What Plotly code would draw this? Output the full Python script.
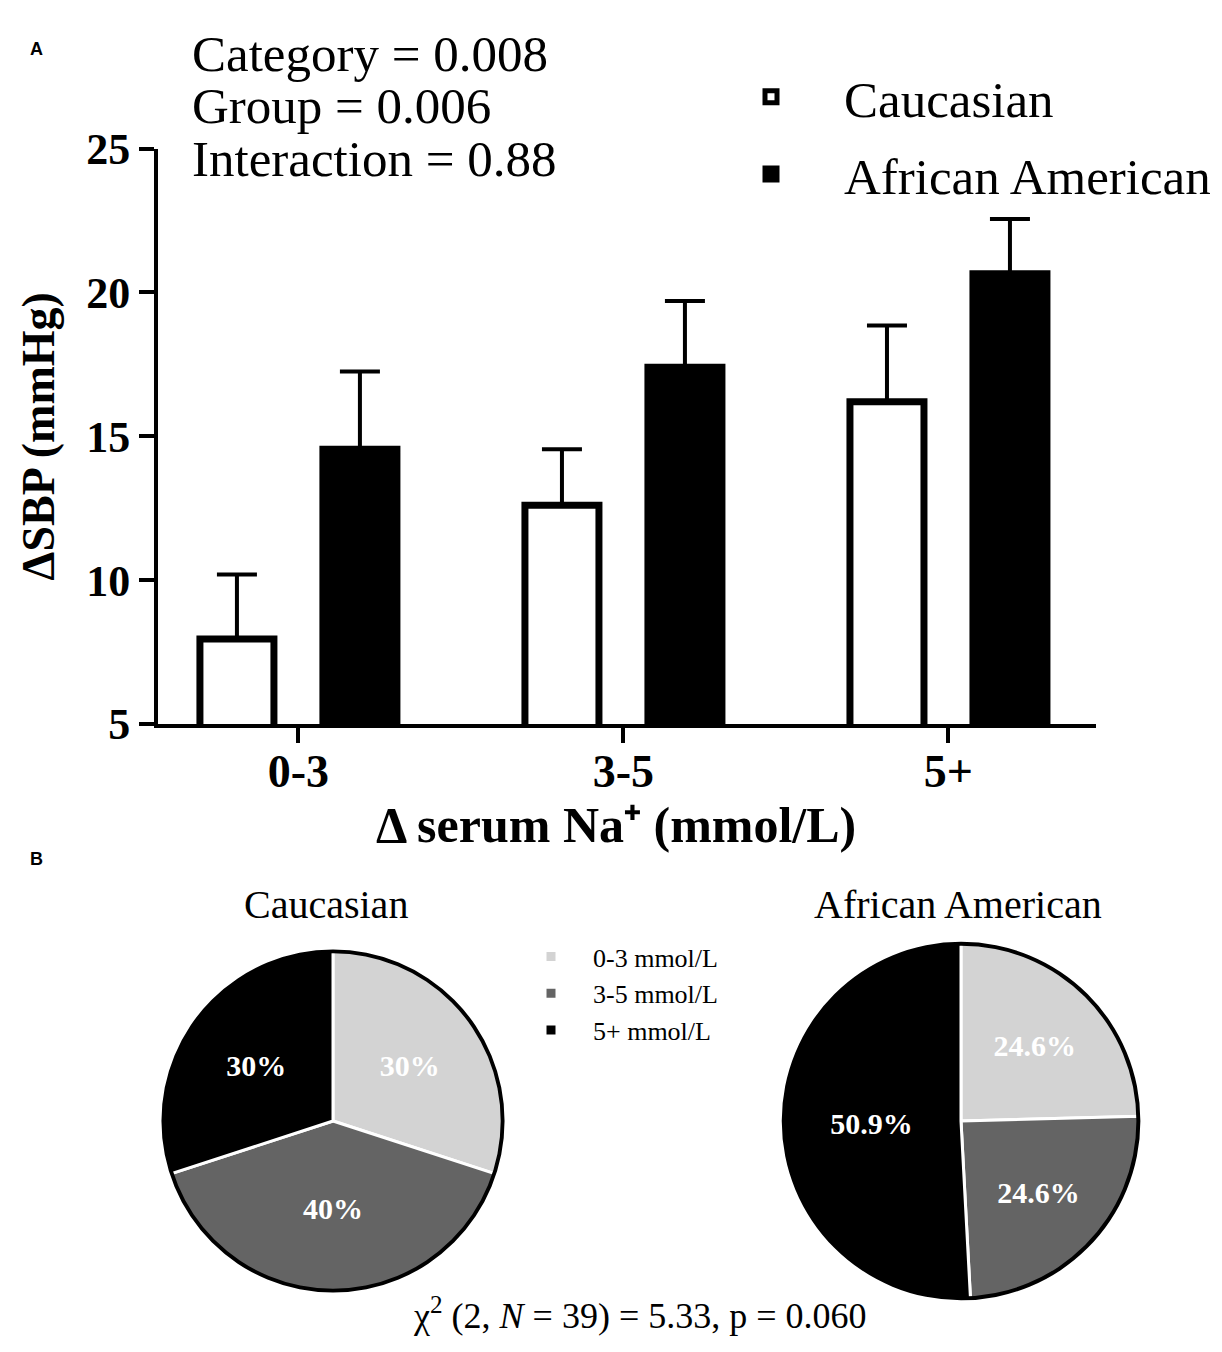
import plotly.graph_objects as go

W, H = 1222, 1352
SERIF = "Liberation Serif"

# ---------------- data ----------------
categories = ["0-3", "3-5", "5+"]
cauc_mean = [7.95, 12.6, 16.2]
cauc_sem = [2.25, 1.95, 2.65]
aa_mean = [14.55, 17.4, 20.65]
aa_sem = [2.7, 2.3, 1.9]
y_ticks = [5, 10, 15, 20, 25]

pie_labels = ["0-3 mmol/L", "3-5 mmol/L", "5+ mmol/L"]
cauc_pct = [30, 40, 30]
aa_pct = [24.6, 24.6, 50.9]
cauc_pct_text = ["30%", "40%", "30%"]
aa_pct_text = ["24.6%", "24.6%", "50.9%"]
pie_colors = ["#d3d3d3", "#646464", "#000000"]

stats_lines = ["Category = 0.008", "Group = 0.006", "Interaction = 0.88"]
x_title = "Δ serum Na⁺ (mmol/L)"
y_title = "ΔSBP (mmHg)"
chi_text = "χ<sup>2</sup> (2, <i>N</i> = 39) = 5.33, p = 0.060"


# ---------------- helpers (pixel -> paper) ----------------
def px(x):
    return x / W


def py(y):
    return 1 - y / H


def pie_domain(cx, cy, r):
    return dict(x=[px(cx - r), px(cx + r)], y=[py(cy + r), py(cy - r)])


fig = go.Figure()

bar_w = 0.2277
fig.add_trace(go.Bar(
    x=categories, y=cauc_mean, name="Caucasian",
    width=bar_w, offset=-0.303,
    marker=dict(color="white", line=dict(color="black", width=7)),
    error_y=dict(type="data", symmetric=False, array=cauc_sem,
                 arrayminus=[0] * len(cauc_sem), color="black",
                 thickness=4, width=20),
    legend="legend", legendgroup="cauc",
))
fig.add_trace(go.Bar(
    x=categories, y=aa_mean, name="African American",
    width=bar_w, offset=0.0754,
    marker=dict(color="black", line=dict(color="black", width=7)),
    error_y=dict(type="data", symmetric=False, array=aa_sem,
                 arrayminus=[0] * len(aa_sem), color="black",
                 thickness=4, width=20),
    legend="legend", legendgroup="aa",
))

pie_common = dict(
    labels=pie_labels, textinfo="text", textposition="inside",
    insidetextorientation="horizontal", sort=False, direction="clockwise",
    rotation=0,
    marker=dict(colors=pie_colors, line=dict(color="white", width=3)),
    textfont=dict(family=SERIF, size=30, color="white", weight="bold"),
    legend="legend2", hoverinfo="label+text",
)
pie_geo = [(325, 1130, 178), (953, 1130, 186)]
pie_names = ["Caucasian", "African American"]
pie_vals = [cauc_pct, aa_pct]
pie_texts = [cauc_pct_text, aa_pct_text]

for (cx, cy, r), nm, vals, txt in zip(pie_geo, pie_names, pie_vals, pie_texts):
    fig.add_trace(go.Pie(values=vals, text=txt, domain=pie_domain(cx, cy, r),
                         name=nm, **pie_common))

# thin black outer rim of each pie (a ring drawn over the pie edge)
for (cx, cy, r), nm in zip(pie_geo, pie_names):
    fig.add_trace(go.Pie(labels=["rim"], values=[1], domain=pie_domain(cx, cy, r),
                         hole=1 - 4.0 / r, sort=False, textinfo="none",
                         marker=dict(colors=["black"], line=dict(width=0)),
                         showlegend=False, hoverinfo="skip", name=nm + " rim",
                         legend="legend2"))

annotations = []
for lab, yc in (("A", 18), ("B", 858)):
    annotations.append(dict(text=lab, x=px(20), y=py(yc), xref="paper", yref="paper",
                            xanchor="left", yanchor="middle", showarrow=False,
                            font=dict(family="Liberation Sans", size=18, color="black",
                                      weight="bold")))
for line, yc in zip(stats_lines, [23, 77, 132]):
    annotations.append(dict(text=line, x=px(182), y=py(yc), xref="paper", yref="paper",
                            xanchor="left", yanchor="middle", showarrow=False,
                            font=dict(family=SERIF, size=51, color="black")))
annotations.append(dict(text=x_title, x=px(608), y=py(823), xref="paper", yref="paper",
                        xanchor="center", yanchor="middle", showarrow=False,
                        font=dict(family=SERIF, size=50, color="black", weight="bold")))
annotations.append(dict(text="Caucasian", x=px(318), y=py(905), xref="paper", yref="paper",
                        xanchor="center", yanchor="middle", showarrow=False,
                        font=dict(family=SERIF, size=40, color="black")))
annotations.append(dict(text="African American", x=px(950), y=py(905), xref="paper",
                        yref="paper", xanchor="center", yanchor="middle", showarrow=False,
                        font=dict(family=SERIF, size=40, color="black")))
annotations.append(dict(text=chi_text, x=px(632), y=py(1330), xref="paper", yref="paper",
                        xanchor="center", yanchor="middle", showarrow=False,
                        font=dict(family=SERIF, size=36, color="black")))

fig.update_layout(
    width=W, height=H,
    margin=dict(l=0, r=0, t=0, b=0),
    paper_bgcolor="white", plot_bgcolor="white",
    font=dict(family=SERIF, color="black"),
    barmode="group",
    xaxis=dict(
        domain=[px(150), px(1088)], range=[-0.432, 2.454], type="category",
        showline=True, linecolor="black", linewidth=4,
        ticks="outside", ticklen=15, tickwidth=4, tickcolor="black",
        showgrid=False, zeroline=False, ticklabelstandoff=-11,
        tickfont=dict(family=SERIF, size=46, color="black", weight="bold"),
    ),
    yaxis=dict(
        domain=[py(718), py(121)], range=[5, 25], tickvals=y_ticks,
        showline=True, linecolor="black", linewidth=4,
        ticks="outside", ticklen=15, tickwidth=4, tickcolor="black",
        showgrid=False, zeroline=False,
        tickfont=dict(family=SERIF, size=44, color="black", weight="bold"),
        title=dict(text=y_title, standoff=18,
                   font=dict(family=SERIF, size=46, color="black", weight="bold")),
    ),
    legend=dict(
        x=px(690), y=py(26), xanchor="left", yanchor="top",
        font=dict(family=SERIF, size=51, color="black"),
        itemwidth=136, traceorder="grouped", tracegroupgap=8,
        bgcolor="rgba(0,0,0,0)",
    ),
    legend2=dict(
        x=px(501), y=py(935), xanchor="left", yanchor="top",
        font=dict(family=SERIF, size=26, color="black"),
        itemwidth=74, bgcolor="rgba(0,0,0,0)",
    ),
    annotations=annotations,
    showlegend=True,
)

fig.write_html("out.html")
